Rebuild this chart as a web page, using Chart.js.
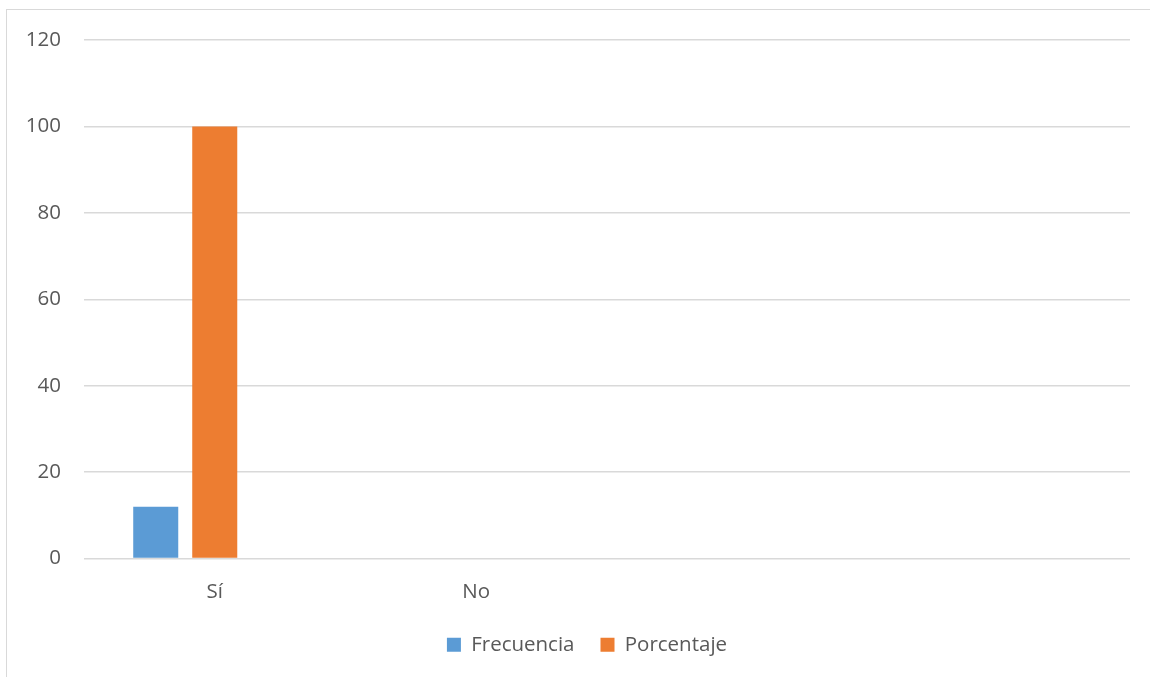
<!DOCTYPE html>
<html>
<head>
<meta charset="utf-8">
<script src="https://cdn.jsdelivr.net/npm/chart.js@4/dist/chart.umd.min.js"></script>
<style>
  html, body { margin: 0; padding: 0; background: #fff; overflow: hidden; }
  #frame { position: absolute; left: 6px; top: 9px; width: 1200px; height: 720px; border: 1.5px solid #d9d9d9; }
  #wrap { position: absolute; left: 0; top: 0; width: 1150px; height: 720px; }
</style>
</head>
<body>
<div id="frame"></div>
<div id="wrap"><canvas id="chart"></canvas></div>
<script>
// categories (last two are blank slots in the original sheet)
const categories = ['Sí', 'No', '', ''];
const frecuencia = [12, 0, null, null];
const porcentaje = [100, 0, null, null];
const emptySeries = [null, null, null, null];
const yTicks = { min: 0, max: 120, step: 20 };

const textColor = '#595959';
const gridColor = '#d9d9d9';
const font = { family: '"Open Sans", sans-serif', size: 20.5 };

// legend sits centred under the plot area, not the whole canvas
const shiftLegend = {
  id: 'shiftLegend',
  afterLayout(chart) {
    const lg = chart.legend;
    const dx = (chart.chartArea.left + chart.chartArea.right) / 2 - (lg.left + lg.right) / 2 - 20;
    lg.left += dx;
    lg.right += dx;
  }
};

new Chart(document.getElementById('chart'), {
  type: 'bar',
  data: {
    labels: categories,
    datasets: [
      { label: 'Frecuencia', data: frecuencia, backgroundColor: '#5B9BD5' },
      { label: 'Porcentaje', data: porcentaje, backgroundColor: '#ED7D31' },
      { label: '', data: emptySeries, backgroundColor: '#A5A5A5' }
    ]
  },
  plugins: [shiftLegend],
  options: {
    responsive: true,
    maintainAspectRatio: false,
    animation: false,
    datasets: { bar: { categoryPercentage: 0.677, barPercentage: 0.763 } },
    layout: { padding: { top: 40, right: 20, bottom: 55, left: 0 } },
    plugins: {
      legend: {
        position: 'bottom',
        labels: {
          color: textColor,
          font: font,
          boxWidth: 14,
          boxHeight: 14,
          padding: 26,
          filter: item => item.text !== ''
        }
      },
      tooltip: { enabled: false }
    },
    scales: {
      x: {
        grid: { display: false },
        border: { display: false },
        ticks: { color: textColor, font: font, padding: 13, maxRotation: 0 },
        afterFit: s => { s.height = 50; }
      },
      y: {
        min: yTicks.min,
        max: yTicks.max,
        grid: { color: gridColor, lineWidth: 1.5, drawTicks: false },
        border: { display: false },
        ticks: { color: textColor, font: font, stepSize: yTicks.step, padding: 23 },
        afterFit: s => { s.width = 84; }
      }
    }
  }
});
</script>
</body>
</html>
